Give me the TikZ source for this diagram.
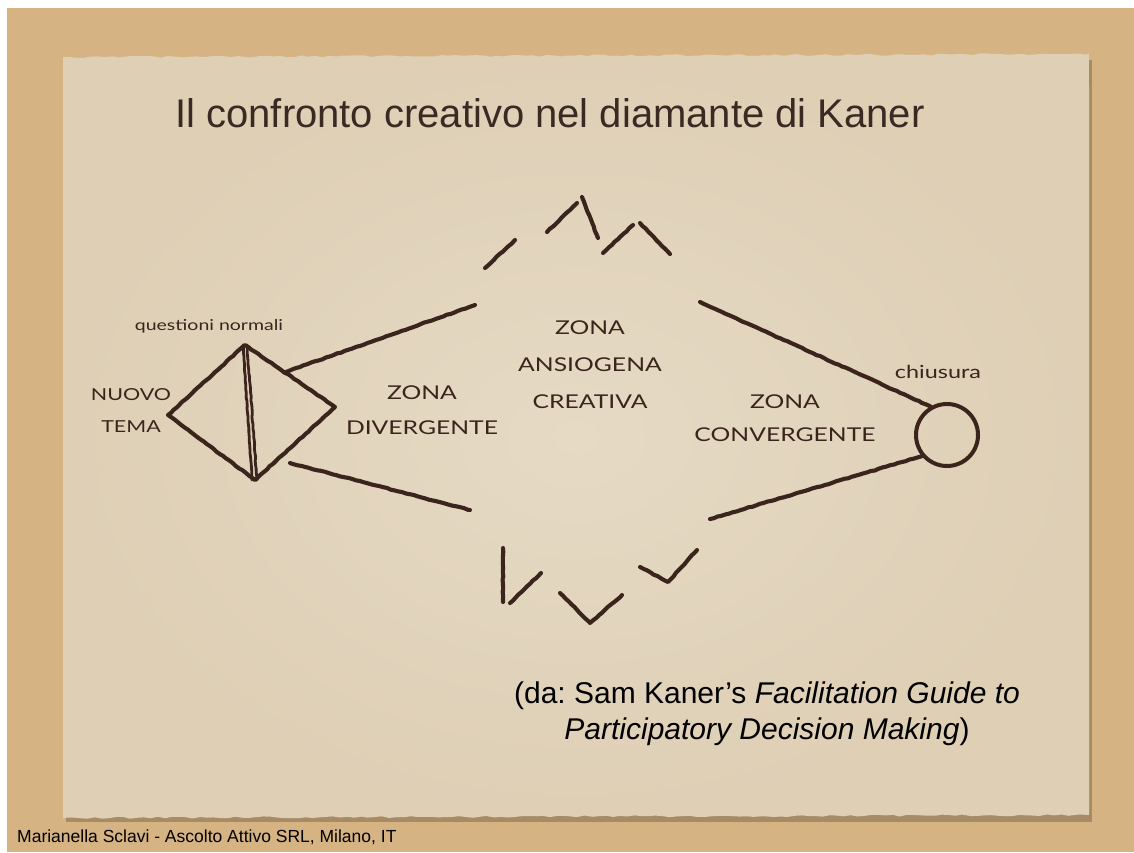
\documentclass[tikz,border=0pt]{standalone}
\usepackage{fontspec}
\setmainfont{Liberation Sans}
\newfontfamily\handfont[FakeStretch=1.3]{Lato}
\usetikzlibrary{positioning, calc, decorations.pathmorphing}
\frenchspacing

\definecolor{cork}{RGB}{214,179,130}
\definecolor{paper}{RGB}{222,207,181}
\definecolor{paperlight}{RGB}{230,218,197}
\definecolor{ink}{RGB}{58,36,28}
\definecolor{titleink}{RGB}{58,42,36}

\tikzset{
  inkline/.style={draw=ink, line width=4.1pt, line cap=round, line join=round,
    decorate, decoration={random steps, segment length=4pt, amplitude=0.4pt}},
  hand/.style={font=\handfont\fontsize{19}{22}\selectfont, text=ink, align=center, inner sep=0pt},
  torn/.style={decoration={random steps, segment length=7pt, amplitude=1pt}}
}

\begin{document}
\begin{tikzpicture}[x=1pt, y=-1pt]
    \useasboundingbox (0,0) rectangle (1134,852);

    % board behind the sheet
    \fill[white] (0,0) rectangle (1134,852);
    \fill[cork] (7,8) rectangle (1134,852);

    % sheet with its shadow
    \fill[black!40!cork, opacity=0.55] (66,60) rectangle (1092,822);
    \shade[inner color=paperlight, outer color=paper]
        (63,57) decorate[torn]{-- (1089,54)} -- (1089,815)
        decorate[torn]{-- (63,818)} -- cycle;

    % title
    \node[text=titleink, font=\fontsize{40}{48}\selectfont] (title) at (550,113)
        {Il confronto creativo nel diamante di Kaner};

    % small diamond (new topic)
    \coordinate (dleft) at (168,415);
    \coordinate (dtop) at (245,345);
    \coordinate (dright) at (335,407);
    \coordinate (dbot) at (255,480);
    \draw[inkline] (dleft) -- (dtop) -- (dright) -- (dbot) -- cycle;
    \draw[inkline, line width=2.8pt] ($(dtop)+(-2,0)$) -- ($(dbot)+(-3,0)$);
    \draw[inkline, line width=2.8pt] ($(dtop)+(2,0)$) -- ($(dbot)+(2,0)$);

    % diverging lines
    \coordinate (divstart) at (290,463);
    \coordinate (divtop) at (475,305);
    \coordinate (divbot) at (470,510);
    \draw[inkline] ($(dtop)!0.44!(dright)$) -- (divtop);
    \draw[inkline] (divstart) -- (divbot);

    % closing circle and converging lines
    \node[draw=ink, line width=4pt, circle, minimum size=62pt, inner sep=0pt] (closing) at (947,435) {};
    \coordinate (contop) at (700,302);
    \coordinate (conbot) at (710,519);
    \draw[inkline] (contop) -- (closing.120);
    \draw[inkline] (conbot) -- (closing.220);

    % broken ridge above
    \draw[inkline] (485,268) -- (515,240);
    \draw[inkline] (547,232) -- (577,203);
    \draw[inkline] (582,197) -- (598,238);
    \draw[inkline] (603,253) -- (633,225);
    \draw[inkline] (640,223) -- (670,254);

    % broken ridge below
    \draw[inkline] (503,548) -- (503,602);
    \draw[inkline] (510,603) -- (541,573);
    \draw[inkline] (560,593) -- (590,623) -- (622,595);
    \draw[inkline] (640,567) -- (668,582) -- (697,550);

    % labels
    \node[hand, font=\handfont\fontsize{15}{18}\selectfont] (normal) at (209,326) {questioni normali};
    \node[hand, font=\handfont\fontsize{16.5}{20}\selectfont] (nuovo) at (131,395) {NUOVO};
    \node[hand, font=\handfont\fontsize{16.5}{20}\selectfont, below=19pt of nuovo] (tema) {TEMA};
    \node[hand, font=\handfont\fontsize{19}{35}\selectfont] (divzone) at (422,410) {ZONA\\DIVERGENTE};
    \node[hand, font=\handfont\fontsize{19}{37}\selectfont] (anxzone) at (590,365) {ZONA\\ANSIOGENA\\CREATIVA};
    \node[hand, font=\handfont\fontsize{19}{33}\selectfont] (convzone) at (785,418) {ZONA\\CONVERGENTE};
    \node[hand, font=\handfont\fontsize{18}{20}\selectfont, above=30pt of closing.north, anchor=center, xshift=-9pt] (chius) {chiusura};

    % source
    \node[font=\fontsize{30}{36}\selectfont, align=center] (source) at (767,714)
        {(da: Sam Kaner's \textit{Facilitation Guide to}\\ \textit{Participatory Decision Making})};

    % credit line
    \node[anchor=west, font=\fontsize{17.5}{20}\selectfont, inner sep=0pt] (credit) at (17,837)
        {Marianella Sclavi - Ascolto Attivo SRL, Milano, IT};
\end{tikzpicture}
\end{document}
